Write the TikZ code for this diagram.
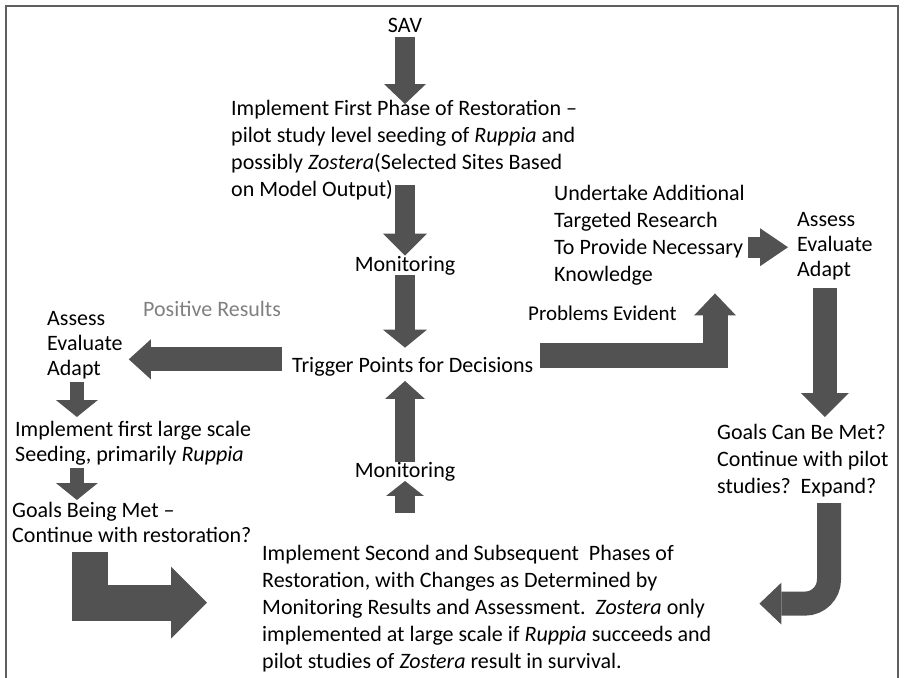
\documentclass[tikz,border=0pt]{standalone}
\usepackage{fontspec}
\setmainfont{Carlito}
\usetikzlibrary{arrows.meta, calc}
\definecolor{arrowgray}{RGB}{82,82,82}
\definecolor{framegray}{RGB}{95,95,95}
\tikzset{
  txt/.style={inner sep=0pt, align=left, anchor=north west, font=\fontsize{22}{27}\selectfont},
  tight/.style={font=\fontsize{22}{25}\selectfont},
  word/.style={inner sep=0pt, anchor=base, font=\fontsize{22}{27}\selectfont},
  blk/.style n args={3}{draw=arrowgray, line width=#1, line join=miter, -{Triangle[width=#2, length=#3, line width=0pt]}},
}
\begin{document}
\begin{tikzpicture}[x=1pt, y=-1pt]
  \useasboundingbox (0,0) rectangle (904,677);
  \draw[framegray, line width=2pt] (6,680) -- (6,6) -- (898,6) -- (898,680);

  % centre column
  \node[word] (sav) at (405,33) {SAV};
  \node[txt] (impl1) at (231,100) {Implement First Phase of Restoration –\\pilot study level seeding of \textit{Ruppia} and\\possibly \textit{Zostera}(Selected Sites Based\\on Model Output)};
  \node[word] (mon1) at (405,271) {Monitoring};
  \node[word, anchor=base west] (trig) at (292,372) {Trigger Points for Decisions};
  \node[word] (mon2) at (405,477) {Monitoring};
  \node[txt] (impl2) at (262,545) {Implement Second and Subsequent\ \ Phases of\\Restoration, with Changes as Determined by\\Monitoring Results and Assessment.\ \ \textit{Zostera} only\\implemented at large scale if \textit{Ruppia} succeeds and\\pilot studies of \textit{Zostera} result in survival.};

  % right branch
  \node[word, anchor=base west, font=\fontsize{21}{25}\selectfont] (prob) at (528,320) {Problems Evident};
  \node[txt] (res) at (554,185) {Undertake Additional\\Targeted Research\\To Provide Necessary\\Knowledge};
  \node[txt, tight] (ass2) at (797,212) {Assess\\Evaluate\\Adapt};
  \node[txt] (goal2) at (717,424) {Goals Can Be Met?\\Continue with pilot\\studies?\ \ Expand?};

  % left branch
  \node[word, anchor=base west, text=gray] (pos) at (143,316) {Positive Results};
  \node[txt, tight] (ass1) at (47,311) {Assess\\Evaluate\\Adapt};
  \node[txt, tight] (big1) at (15,421) {Implement first large scale\\Seeding, primarily \textit{Ruppia}};
  \node[txt, tight] (goal1) at (12,502) {Goals Being Met –\\Continue with restoration?};

  \draw[blk={20pt}{42pt}{20pt}] ($(sav.south)+(0,4)$) -- ($(sav.south |- impl1.north)+(0,4)$);
  \draw[blk={20pt}{44pt}{22pt}] ($(mon1.north |- impl1.south)+(0,-15)$) -- (mon1.north);
  \draw[blk={20pt}{44pt}{18pt}] (mon1.south) -- ($(mon1.south |- trig.north)+(0,-9)$);
  \draw[blk={20pt}{40pt}{18pt}] (mon2.north) -- ($(mon2.north |- trig.south)+(0,5)$);
  \draw[blk={20pt}{38pt}{15pt}] ($(mon2.south |- impl2.north)+(0,-32)$) -- (mon2.south);

  \draw[blk={24pt}{40pt}{22pt}] ($(trig.west)+(-10,-7)$) -- ($(trig.west -| ass1.east)+(6,-7)$);
  \draw[blk={14pt}{42pt}{17pt}] ($(ass1.south)+(-8,3)$) -- ($(ass1.south |- big1.north)+(-8,-4)$);
  \draw[blk={14pt}{42pt}{17pt}] ($(ass1.south |- big1.south)+(-8,3)$) -- ($(ass1.south |- goal1.north)+(-8,-2)$);
  \draw[blk={36pt}{72pt}{36pt}] ($(goal1.south west)+(78,9)$) |- ($(impl2.west)+(-55,-6)$);

  \draw[blk={25pt}{42pt}{22pt}] ($(trig.east)+(7,-11)$) -| ($(res.south west)+(161,8)$);
  \draw[blk={21pt}{38pt}{28pt}] ($(res.east)+(3,12)$) -- ($(res.east -| ass2.west)+(-9,12)$);
  \draw[blk={24pt}{48pt}{24pt}] ($(ass2.south)+(-10,8)$) -- ($(ass2.south |- goal2.north)+(-10,-7)$);
  \draw[blk={24pt}{42pt}{22pt}] ($(goal2.south west)+(112,6)$) -- ($(goal2.south west |- impl2.east)+(112,-29)$)
    arc[start angle=0, end angle=90, radius=24] -- ($(impl2.east)+(48,-5)$);
\end{tikzpicture}
\end{document}
